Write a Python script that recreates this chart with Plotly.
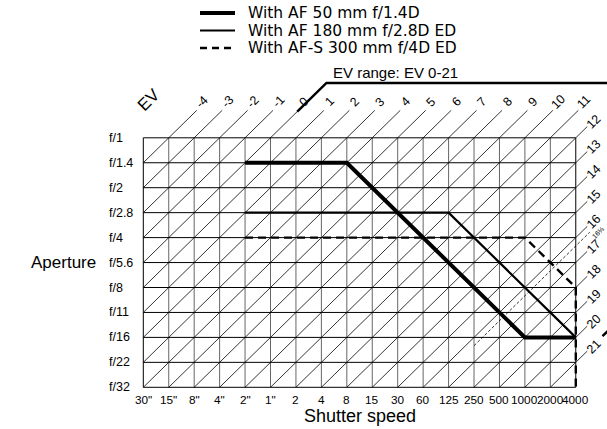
import plotly.graph_objects as go

# ---------------- data ----------------
shutter_labels = ['30"', '15"', '8"', '4"', '2"', '1"', '2', '4', '8', '15', '30',
                  '60', '125', '250', '500', '1000', '2000', '4000']
aperture_labels = ["f/1", "f/1.4", "f/2", "f/2.8", "f/4", "f/5.6", "f/8",
                   "f/11", "f/16", "f/22", "f/32"]
ev_top_labels = list(range(-4, 12))      # EV lines labelled above the grid
ev_right_labels = list(range(12, 22))    # EV lines labelled right of the grid
ev_range = [0, 21]
ev_mark = 16 + 1 / 3
ev_mark_start_shutter = '250'

series_names = ["With AF 50 mm f/1.4D", "With AF 180 mm f/2.8D ED", "With AF-S 300 mm f/4D ED"]
af50_shutter = ['2"', '8', '1000', '4000']
af50_aperture = ["f/1.4", "f/1.4", "f/16", "f/16"]
af180_shutter = ['2"', '125', '4000']
af180_aperture = ["f/2.8", "f/2.8", "f/16"]
afs300_shutter = ['2"', '1000', '4000', '4000']
afs300_aperture = ["f/4", "f/4", "f/8", "f/32"]

# ---------------- geometry helpers ----------------
W, H = 607, 429
X0, DX = 143.3, 25.44   # pixel of first column, column spacing
Y0, DY = 137.8, 24.95   # pixel of first row, row spacing
NC = len(shutter_labels) - 1
NR = len(aperture_labels) - 1
EV_OFF = -5             # EV = col + row + EV_OFF


def cx(px):
    return (px - X0) / DX


def ry(py):
    return (py - Y0) / DY


def si(lbls):
    return [shutter_labels.index(s) for s in lbls]


def ai(lbls):
    return [aperture_labels.index(a) for a in lbls]


FONT = "Liberation Sans, Arial, Helvetica, sans-serif"
LFONT = "DejaVu Sans, Liberation Sans, sans-serif"
fig = go.Figure()


def seg_trace(xs, ys, color="#000", width=1, dash=None):
    fig.add_trace(go.Scatter(x=xs, y=ys, mode="lines",
                             line=dict(color=color, width=width, dash=dash),
                             showlegend=False, hoverinfo="skip"))


# vertical grid lines (grey)
vx, vy = [], []
for c in range(1, NC):
    vx += [c, c, None]
    vy += [0, NR, None]
seg_trace(vx, vy, "#666", 1)
# horizontal grid lines
hx, hy = [], []
for r in range(1, NR):
    hx += [0, NC, None]
    hy += [r, r, None]
seg_trace(hx, hy, "#000", 1)
# diagonal EV lines
dx_, dy_ = [], []
for ev in ev_top_labels + ev_right_labels:
    s = ev - EV_OFF
    c_lo = max(0, s - NR)
    c_hi = s + 1.1 if s <= NC - 1 else NC + 0.45
    dx_ += [c_lo, c_hi, None]
    dy_ += [s - c_lo, s - c_hi, None]
seg_trace(dx_, dy_, "#000", 0.8)
# border
seg_trace([0, NC, NC, 0, 0], [0, 0, NR, NR, 0], "#000", 1)

# EV 16 1/3 thin dashed line
sm = ev_mark - EV_OFF
c_start = shutter_labels.index(ev_mark_start_shutter)
seg_trace([c_start, NC + 0.55], [sm - c_start, sm - NC - 0.55], "#000", 0.8, "3px,2px")

# EV range bracket
s0 = ev_range[0] - EV_OFF
s1 = ev_range[1] - EV_OFF
seg_trace([s0 + 1.05, s0 + 2.2, 19], [-1.05, -2.2, -2.2], "#000", 2.5)
seg_trace([18.05, 18.6], [s1 - 18.05, s1 - 18.6], "#000", 2.5)

# data series
styles = [dict(color="#000", width=4),
          dict(color="#000", width=2.2),
          dict(color="#000", width=2.4, dash="8px,5px")]
paths = [(af50_shutter, af50_aperture), (af180_shutter, af180_aperture),
         (afs300_shutter, afs300_aperture)]
for name, (sh, ap), st in zip(series_names, paths, styles):
    fig.add_trace(go.Scatter(x=si(sh), y=ai(ap), mode="lines", name=name, line=st,
                             showlegend=False))

ann = []
# legend (drawn as keys + text at the top)
leg_y = [13, 30.5, 48]
leg_styles = [dict(color="#000", width=4), dict(color="#000", width=2.2),
              dict(color="#000", width=2.4, dash="7px,5px")]
for name, yy, st in zip(series_names, leg_y, leg_styles):
    seg_trace([cx(200), cx(235)], [ry(yy), ry(yy)], st["color"], st["width"], st.get("dash"))
    ann.append(dict(x=cx(246), y=ry(yy), text=name, xanchor="left", yanchor="middle",
                    showarrow=False, font=dict(size=15.5, family=LFONT, color="#000")))

# aperture labels
for r, lab in enumerate(aperture_labels):
    ann.append(dict(x=cx(107), y=r, text=lab, xanchor="left", yanchor="middle",
                    showarrow=False, font=dict(size=12.5, family=FONT, color="#000")))
# shutter labels
for c, lab in enumerate(shutter_labels):
    ann.append(dict(x=c, y=ry(399.5), text=lab, xanchor="center", yanchor="middle",
                    showarrow=False, font=dict(size=11.8, family=FONT, color="#000")))
# EV labels
for ev in ev_top_labels:
    s = ev - EV_OFF
    ann.append(dict(x=s + 1.3, y=-1.45, text=str(ev), textangle=-45,
                    xanchor="center", yanchor="middle", showarrow=False,
                    font=dict(size=12.5, family=FONT, color="#000")))
for ev in ev_right_labels:
    s = ev - EV_OFF
    ann.append(dict(x=NC + 0.7, y=s - NC - 0.62, text=str(ev), textangle=-45,
                    xanchor="center", yanchor="middle", showarrow=False,
                    font=dict(size=12.5, family=FONT, color="#000")))
ann.append(dict(x=NC + 0.88, y=sm - NC - 0.55, text="16⅓", textangle=-45,
                xanchor="center", yanchor="middle", showarrow=False,
                font=dict(size=7, family=FONT, color="#000")))
# titles
ann.append(dict(x=cx(148), y=ry(100), text="EV", textangle=-45, showarrow=False,
                font=dict(size=17, family=FONT, color="#000")))
ann.append(dict(x=cx(98), y=ry(262), text="Aperture", xanchor="right", showarrow=False,
                font=dict(size=17, family=FONT, color="#000")))
ann.append(dict(x=cx(360), y=ry(416), text="Shutter speed", showarrow=False,
                font=dict(size=18, family=FONT, color="#000")))
ann.append(dict(x=cx(331), y=ry(72), text="EV range: EV %d-%d" % (ev_range[0], ev_range[1]),
                xanchor="left", showarrow=False, font=dict(size=15, family=FONT, color="#000")))

fig.update_layout(
    width=W, height=H,
    margin=dict(l=0, r=0, t=0, b=0),
    paper_bgcolor="white", plot_bgcolor="white",
    xaxis=dict(range=[cx(0), cx(W)], visible=False, fixedrange=True),
    yaxis=dict(range=[ry(H), ry(0)], visible=False, fixedrange=True),
    showlegend=False,
    annotations=ann,
)

fig.write_html("out.html", config={"displayModeBar": False},
               post_script="document.body.style.margin='0';document.body.style.overflow='hidden';")
